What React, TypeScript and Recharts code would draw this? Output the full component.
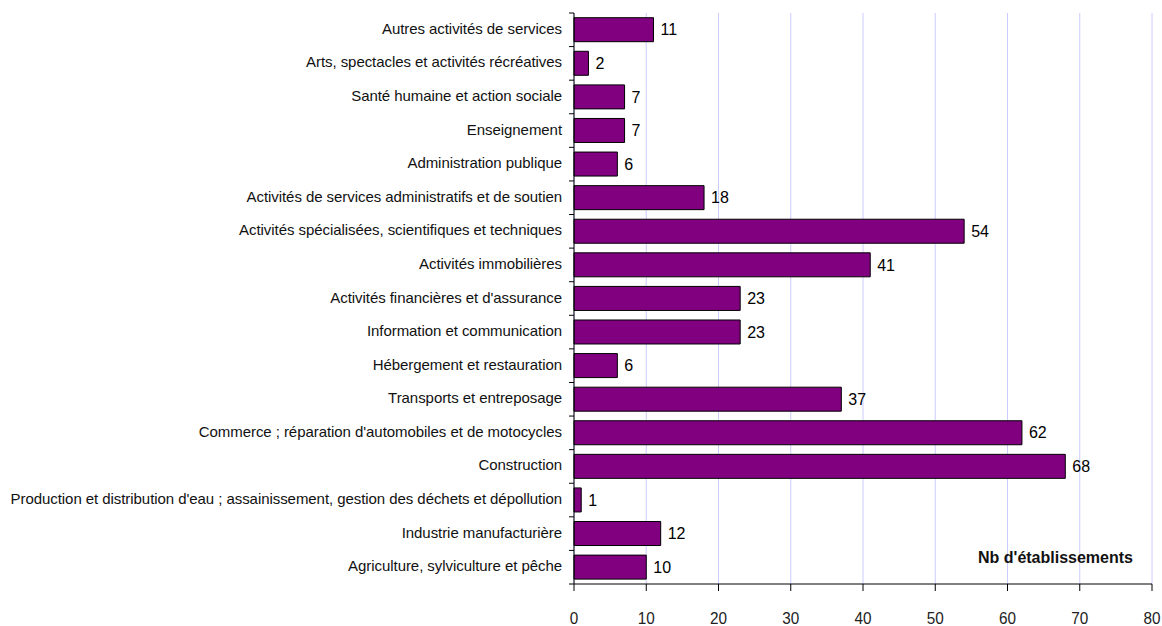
import React from "react";
import { BarChart, Bar, XAxis, YAxis, CartesianGrid, LabelList } from "recharts";

const categories = [
  "Autres activités de services",
  "Arts, spectacles et activités récréatives",
  "Santé humaine et action sociale",
  "Enseignement",
  "Administration publique",
  "Activités de services administratifs et de soutien",
  "Activités spécialisées, scientifiques et techniques",
  "Activités immobilières",
  "Activités financières et d'assurance",
  "Information et communication",
  "Hébergement et restauration",
  "Transports et entreposage",
  "Commerce ; réparation d'automobiles et de motocycles",
  "Construction",
  "Production et distribution d'eau ; assainissement, gestion des déchets et dépollution",
  "Industrie manufacturière",
  "Agriculture, sylviculture et pêche",
];
const values = [11, 2, 7, 7, 6, 18, 54, 41, 23, 23, 6, 37, 62, 68, 1, 12, 10];
const xTicks = [0, 10, 20, 30, 40, 50, 60, 70, 80];
const axisTitle = "Nb d'établissements";

const data = categories.map((name, i) => ({ name, value: values[i] }));

const W = 1162;
const H = 626;
const X_H = 30;
const M = { top: 13, right: 10, bottom: 12, left: 0 };
const Y_W = 574;
const band = (H - M.top - M.bottom - X_H) / categories.length;
const FONT = "'Liberation Sans', Arial, sans-serif";

const YTick = (props: any) => {
  const { x, y, payload, index } = props;
  return (
    <g>
      <text x={x - 12} y={y} dy={4} textAnchor="end" fontSize={15} fill="#111" fontFamily={FONT} letterSpacing={-0.06}>
        {payload.value}
      </text>
      <line x1={x - 5} x2={x} y1={y - band / 2} y2={y - band / 2} stroke="#000" />
      {index === categories.length - 1 && (
        <line x1={x - 5} x2={x} y1={y + band / 2} y2={y + band / 2} stroke="#000" />
      )}
    </g>
  );
};

const XTick = (props: any) => {
  const { x, y, payload } = props;
  return (
    <g transform={`translate(${x},${y})`}>
      <text x={0} y={0} textAnchor="middle" fontSize={17} fill="#222" fontFamily={FONT} transform="scale(0.9,1)">
        {payload.value}
      </text>
    </g>
  );
};

export default function App() {
  return (
    <div style={{ position: "absolute", left: 0, top: 0, background: "#fff" }}>
      <BarChart
        width={W}
        height={H}
        data={data}
        layout="vertical"
        margin={M}
        barCategoryGap="14%"
      >
        <CartesianGrid horizontal={false} stroke="#ccccff" strokeWidth={1} />
        <XAxis
          type="number"
          domain={[0, 80]}
          ticks={xTicks}
          interval={0}
          height={X_H}
          axisLine={{ stroke: "#000" }}
          tickLine={{ stroke: "#000" }}
          tickSize={7}
          tickMargin={33}
          tick={<XTick />}
        />
        <YAxis
          type="category"
          dataKey="name"
          width={Y_W}
          interval={0}
          axisLine={{ stroke: "#000" }}
          tickLine={false}
          tickSize={0}
          tickMargin={0}
          tick={<YTick />}
        />
        <Bar dataKey="value" fill="#800080" stroke="#000" strokeWidth={1} isAnimationActive={false}>
          <LabelList dataKey="value" position="right" offset={7} style={{ fontSize: 16, fill: "#000", fontFamily: FONT }} />
        </Bar>
        <text x={1133} y={563} textAnchor="end" fontSize={16} fontWeight="bold" fill="#111" fontFamily={FONT}>
          {axisTitle}
        </text>
      </BarChart>
    </div>
  );
}
